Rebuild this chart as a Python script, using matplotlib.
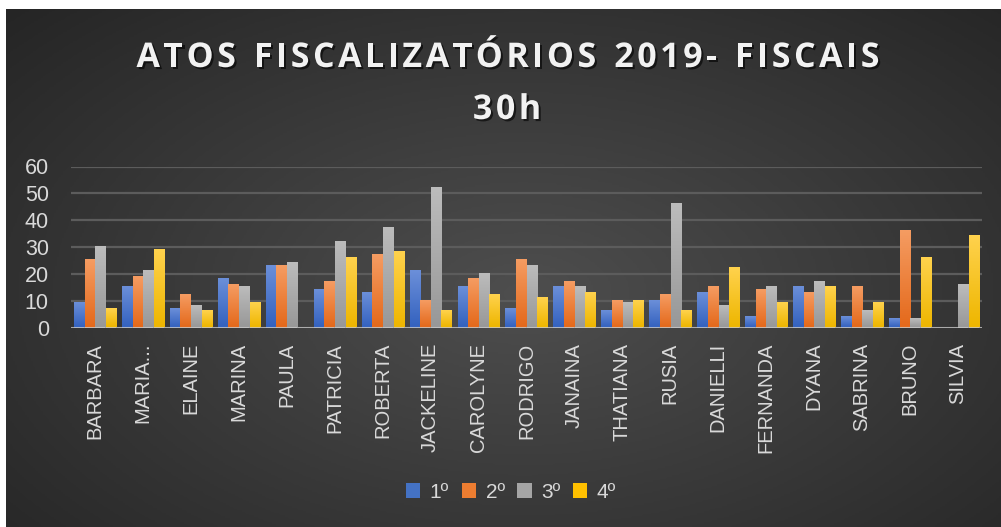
import numpy as np
import matplotlib.pyplot as plt
import matplotlib.patheffects as pe
from matplotlib.colors import LinearSegmentedColormap
from matplotlib.patches import Patch

names = ["BARBARA", "MARIA...", "ELAINE", "MARINA", "PAULA", "PATRICIA", "ROBERTA",
         "JACKELINE", "CAROLYNE", "RODRIGO", "JANAINA", "THATIANA", "RUSIA", "DANIELLI",
         "FERNANDA", "DYANA", "SABRINA", "BRUNO", "SILVIA"]
q1 = [9, 15, 7, 18, 23, 14, 13, 21, 15, 7, 15, 6, 10, 13, 4, 15, 4, 3, 0]
q2 = [25, 19, 12, 16, 23, 17, 27, 10, 18, 25, 17, 10, 12, 15, 14, 13, 15, 36, 0]
q3 = [30, 21, 8, 15, 24, 32, 37, 52, 20, 23, 15, 9, 46, 8, 15, 17, 6, 3, 16]
q4 = [7, 29, 6, 9, 0, 26, 28, 6, 12, 11, 13, 10, 6, 22, 9, 15, 9, 26, 34]
series = [q1, q2, q3, q4]
labels = ["1º", "2º", "3º", "4º"]
yticks = [0, 10, 20, 30, 40, 50, 60]
title1 = "ATOS FISCALIZATÓRIOS 2019- FISCAIS"
title2 = "30h"

# top / bottom colours of each gradient bar
grads = [("#6b8fd9", "#3462bf"), ("#f59c62", "#e4691b"),
         ("#bcbcbc", "#989898"), ("#ffd24d", "#eeb600")]
solid = ["#4472c4", "#ed7d31", "#a5a5a5", "#ffc000"]

W, H = 1001, 527
fig = plt.figure(figsize=(W / 100, H / 100), dpi=100)
fig.patch.set_facecolor("white")

# radial-ish dark background
bg = fig.add_axes([6 / W, 0, 1 - 6 / W, 1 - 9 / H])
bg.axis("off")
yy, xx = np.mgrid[0:1:300j, 0:1:560j]
d = np.sqrt(((xx - 0.52) / 0.72) ** 2 + ((yy - 0.55) / 0.8) ** 2)
d = np.clip(d, 0, 1)
bgcm = LinearSegmentedColormap.from_list("bg", ["#4e4e4e", "#252525"])
bg.imshow(d, cmap=bgcm, aspect="auto", extent=[0, 1, 0, 1], vmin=0, vmax=1)
bg.set_xlim(0, 1)
bg.set_ylim(0, 1)

ax = fig.add_axes([71 / W, 1 - 327.5 / H, (982 - 71) / W, (327.5 - 166.5) / H])
ax.patch.set_alpha(0)

x = np.arange(len(names))
bw = 0.212
for i, vals in enumerate(series):
    bars = ax.bar(x + (i - 1.5) * 0.222, vals, width=bw, color=solid[i], zorder=3)
    cm = LinearSegmentedColormap.from_list("g%d" % i, [grads[i][1], grads[i][0]])
    for b in bars:
        h = b.get_height()
        if h <= 0:
            continue
        g = np.linspace(0, 1, 64).reshape(-1, 1)
        ax.imshow(g, cmap=cm, aspect="auto", origin="lower",
                  extent=[b.get_x(), b.get_x() + b.get_width(), 0, h], zorder=4)

ax.set_xlim(-0.5, len(names) - 0.5)
ax.set_ylim(0, 60)
ax.set_yticks(yticks)
ax.set_xticks(x)
ax.set_xticklabels(names, rotation=90, va="top", ha="center",
                   fontsize=14.5, color="#d9d9d9", family="Liberation Sans")
ax.tick_params(axis="x", length=0, pad=11)
ax.tick_params(axis="y", length=0, pad=16, labelsize=15.5, labelcolor="#d9d9d9")
for t in ax.get_yticklabels():
    t.set_family("Liberation Sans")
for s in ax.spines.values():
    s.set_visible(False)
for v in yticks[1:]:
    ax.axhline(v, color="#5c5c5c", lw=1.6, zorder=1)
ax.axhline(0, color="#c8c8c8", lw=2.2, alpha=0.8, zorder=5)

# title with letter spacing: place characters one by one
shadow = [pe.SimplePatchShadow(offset=(1.5, -1.5), shadow_rgbFace="black", alpha=0.6), pe.Normal()]
renderer = fig.canvas.get_renderer()
tkw = dict(fontsize=24.5, fontweight="bold", color="#f2f2f2", family="Open Sans",
           va="center", ha="left", path_effects=shadow)


def char_widths(s):
    widths = []
    for ch in s:
        t = fig.text(0, 0, ch if ch != " " else "n", **tkw)
        widths.append(t.get_window_extent(renderer).width * (0.5 if ch == " " else 1))
        t.remove()
    return widths


def spaced_text(s, xc, yc, track):
    widths = char_widths(s)
    total = sum(widths) + track * (len(s) - 1)
    xp = xc - total / 2
    for ch, w in zip(s, widths):
        if ch != " ":
            fig.text(xp / W, 1 - yc / H, ch, **tkw)
        xp += w + track


w1 = char_widths(title1)
track = max(0.0, (743 - sum(w1)) / (len(title1) - 1))
spaced_text(title1, 508, 58, track)
spaced_text(title2, 507, 110, track)

handles = [Patch(facecolor=solid[i], edgecolor="none") for i in range(4)]
leg = fig.legend(handles, labels, loc="center", bbox_to_anchor=(511 / W, 1 - 492 / H),
                 ncol=4, frameon=False, handlelength=0.7, handleheight=0.7,
                 handletextpad=0.45, columnspacing=0.6, prop={"family": "Liberation Sans", "size": 15})
for t in leg.get_texts():
    t.set_color("#d9d9d9")

fig.savefig("out.png", dpi=100)
